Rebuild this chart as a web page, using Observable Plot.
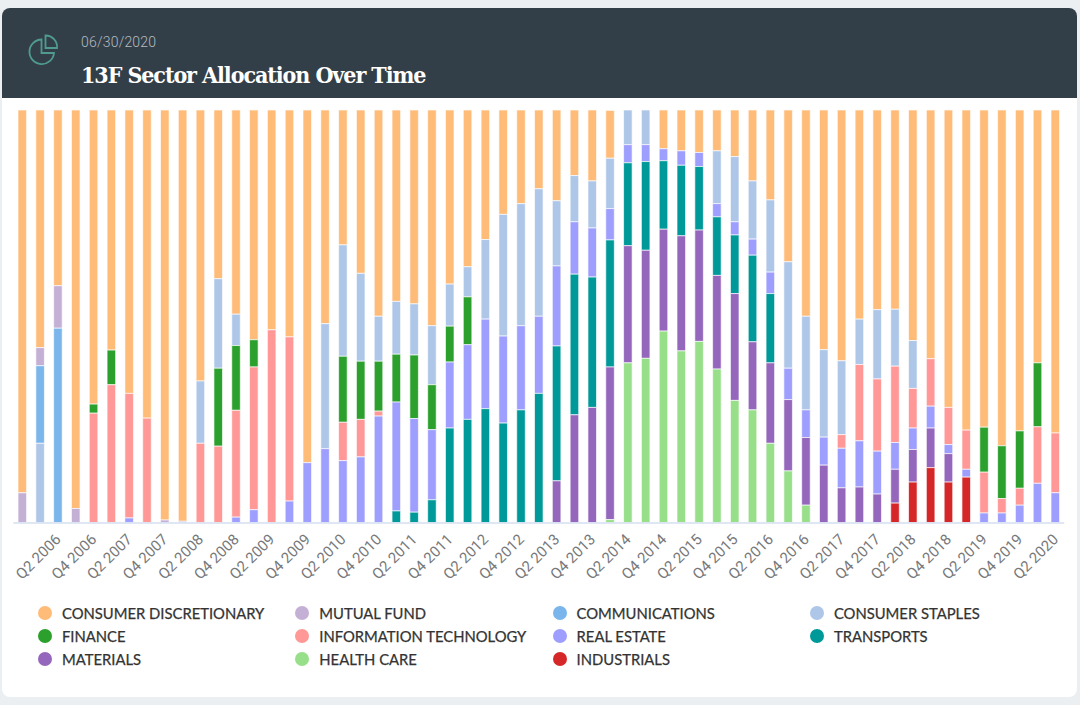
<!DOCTYPE html>
<html><head><meta charset="utf-8">
<script src="https://cdn.jsdelivr.net/npm/d3@7"></script>
<script src="https://cdn.jsdelivr.net/npm/@observablehq/plot@0.6"></script>
<style>
html,body{margin:0;padding:0;background:#ebeff2;width:1080px;height:705px;overflow:hidden}
#card{position:absolute;left:2px;top:8px;width:1075px;height:689px;background:#fff;border-radius:8px;overflow:hidden}
#head{position:absolute;left:0;top:0;width:100%;height:90px;background:#333f48}
#date{position:absolute;left:79px;top:26px;font:300 14px Roboto,sans-serif;color:#b4bcc2;letter-spacing:.2px}
#title{position:absolute;left:79px;top:53px;font:700 23px "DejaVu Serif Condensed","DejaVu Serif",serif;font-stretch:condensed;color:#fff;letter-spacing:-1.07px;white-space:nowrap}
#icon{position:absolute;left:26px;top:26px}
#chart{position:absolute;left:0;top:100px}
#legend{position:absolute;left:0;top:604px;width:1080px}
.it{position:absolute;display:flex;align-items:center;font:400 14.8px Lato,sans-serif;color:#333;-webkit-text-stroke:.25px #333;white-space:nowrap}
.it i{display:block;width:14px;height:14px;border-radius:50%;position:absolute;left:-24px}
</style></head><body>
<div id="card"><div id="head">
<svg id="icon" width="32" height="32" viewBox="0 0 32 32" fill="none" stroke="#4f9c8f" stroke-width="1.8"><path d="M13.5 5.5a12.3 12.3 0 1 0 12.5 13.5H13.5Z"/><path d="M17.5 1.5a11.5 11.5 0 0 1 11.5 12.5H17.5Z"/></svg>
<div id="date">06/30/2020</div><div id="title">13F Sector Allocation Over Time</div></div></div>
<div id="chart"></div><div id="legend"></div>
<script>
const sectors = ["CONSUMER DISCRETIONARY","MUTUAL FUND","COMMUNICATIONS","CONSUMER STAPLES","FINANCE","INFORMATION TECHNOLOGY","REAL ESTATE","TRANSPORTS","MATERIALS","HEALTH CARE","INDUSTRIALS"];
const colors = ["#ffbb78","#c5b0d5","#7ab5eb","#aec7e8","#2ca02c","#ff9896","#9e9eff","#009999","#9467bd","#98df8a","#d62728"];
const quarters = ["Q4 2005","Q1 2006","Q2 2006","Q3 2006","Q4 2006","Q1 2007","Q2 2007","Q3 2007","Q4 2007","Q1 2008","Q2 2008","Q3 2008","Q4 2008","Q1 2009","Q2 2009","Q3 2009","Q4 2009","Q1 2010","Q2 2010","Q3 2010","Q4 2010","Q1 2011","Q2 2011","Q3 2011","Q4 2011","Q1 2012","Q2 2012","Q3 2012","Q4 2012","Q1 2013","Q2 2013","Q3 2013","Q4 2013","Q1 2014","Q2 2014","Q3 2014","Q4 2014","Q1 2015","Q2 2015","Q3 2015","Q4 2015","Q1 2016","Q2 2016","Q3 2016","Q4 2016","Q1 2017","Q2 2017","Q3 2017","Q4 2017","Q1 2018","Q2 2018","Q3 2018","Q4 2018","Q1 2019","Q2 2019","Q3 2019","Q4 2019","Q1 2020","Q2 2020"];
const tickLabels = quarters.filter((q,i)=>i>0 && i%2===0);

const discretionary = [92.8,57.6,42.6,96.6,71.3,58.2,68.7,74.7,99.4,99.7,65.7,40.9,49.5,55.7,53.3,55,85.5,51.8,32.7,39.6,50,46.4,47,52.3,42.2,38,31.4,25.3,22.7,19.1,22,15.9,17.2,11.6,0,0,9.4,9.9,10.3,9.9,11.3,17.2,21.8,36.8,50,58.1,60.8,50.7,48.4,48.3,55.9,60.3,72.1,77.6,76.9,81.4,77.8,61.3,78.3];
const mutualFund   = [7.2,4.4,10.3,3.4,0,0,0,0,0.6,0.3,0,0,0,0,0,0,0,0,0,0,0,0,0,0,0,0,0,0,0,0,0,0,0,0,0,0,0,0,0,0,0,0,0,0,0,0,0,0,0,0,0,0,0,0,0,0,0,0,0];
const communications=[0,18.8,47.1,0,0,0,0,0,0,0,0,0,0,0,0,0,0,0,0,0,0,0,0,0,0,0,0,0,0,0,0,0,0,0,0,0,0,0,0,0,0,0,0,0,0,0,0,0,0,0,0,0,0,0,0,0,0,0,0];
const staples      = [0,19.2,0,0,0,0,0,0,0,0,15.1,21.7,7.6,0,0,0,0,30.3,27,21.3,10.9,12.8,12.4,14.3,10.2,7.3,19.3,29.5,29.6,30.9,15.8,11.2,11.4,12.2,8.4,8.4,0,0,0,12.8,15.8,14.1,17.5,25.8,22.7,21.2,17.9,11,16.8,13.8,11.6,0,0,0,0,0,0,0,0];
const finance      = [0,0,0,0,2.2,8.4,0,0,0,0,0,18.9,15.7,6.6,0,0,0,0,16,14.1,12.1,11.6,15.4,10.9,8.7,11.6,0,0,0,0,0,0,0,0,0,0,0,0,0,0,0,0,0,0,0,0,0,0,0,0,0,0,0,0,10.9,12.8,13.9,15.5,0];
const infoTech     = [0,0,0,0,26.5,33.4,30.2,25.3,0,0,19.2,18.5,25.9,34.6,46.7,39.8,0,0,9.3,9.1,1.2,0,0,0,0,0,0,0,0,0,0,0,0,0,0,0,0,0,0,0,0,0,0,0,0,0,3.3,18.5,17.5,18.5,9.6,11.5,9,9.5,9.9,3.5,4.1,13.7,14.5];
const realEstate   = [0,0,0,0,0,0,1.1,0,0,0,0,0,1.3,3.1,0,5.2,14.5,17.9,15,15.9,25.8,26.4,22.7,17,16,18.1,21.7,21.1,20.4,18.7,19.4,12.7,11.9,7.6,4.4,4.1,2.9,3.5,3.4,3.2,3.2,3.9,5.2,7.6,6.7,6.8,9.6,11.2,10.4,6.5,5.2,5.3,2.2,1.9,2.3,2.3,4.2,9.5,7.2];
const transports   = [0,0,0,0,0,0,0,0,0,0,0,0,0,0,0,0,0,0,0,0,0,2.8,2.5,5.5,22.9,25,27.6,24.1,27.3,31.3,32.7,34.1,31.6,30.8,20.1,21.5,16.6,17.1,15.4,14.2,14.2,21,16.8,0,0,0,0,0,0,0,0,0,0,0,0,0,0,0,0];
const materials    = [0,0,0,0,0,0,0,0,0,0,0,0,0,0,0,0,0,0,0,0,0,0,0,0,0,0,0,0,0,0,10.1,26.1,27.9,37,28.4,26.2,24.7,27.9,27,22.7,25.9,16.5,19.5,17.3,16.4,13.9,8.4,8.6,6.9,8.2,7.9,9.6,6.9,0,0,0,0,0,0];
const healthCare   = [0,0,0,0,0,0,0,0,0,0,0,0,0,0,0,0,0,0,0,0,0,0,0,0,0,0,0,0,0,0,0,0,0,0.7,38.7,39.8,46.4,41.6,43.9,37.2,29.6,27.3,19.2,12.5,4.2,0,0,0,0,0,0,0,0,0,0,0,0,0,0];
const industrials  = [0,0,0,0,0,0,0,0,0,0,0,0,0,0,0,0,0,0,0,0,0,0,0,0,0,0,0,0,0,0,0,0,0,0,0,0,0,0,0,0,0,0,0,0,0,0,0,0,0,4.7,9.8,13.3,9.8,11,0,0,0,0,0];

const series = [discretionary,mutualFund,communications,staples,finance,infoTech,realEstate,transports,materials,healthCare,industrials];
const rows = [];
quarters.forEach((q,i)=>series.forEach((s,j)=>{ if(s[i]>0) rows.push({quarter:q,sector:sectors[j],value:s[i]}); }));
const stackOrder = sectors.slice().reverse();

const plot = Plot.plot({
  width:1080,height:500,marginTop:10,marginBottom:77.5,marginLeft:13.4,marginRight:15.8,
  style:{background:"transparent",overflow:"visible"},
  x:{domain:quarters,paddingInner:.52,paddingOuter:.26,round:false,label:null},
  y:{domain:[0,100],axis:null},
  color:{domain:sectors,range:colors},
  marks:[
    Plot.barY(rows,Plot.stackY({x:"quarter",y:"value",z:"sector",order:stackOrder,fill:"sector",stroke:"#fff",strokeOpacity:.65,strokeWidth:1})),
    Plot.ruleY([0],{stroke:"#d5def0",strokeWidth:1.5}),
    Plot.axisX({ticks:tickLabels,tickSize:0,tickPadding:14,tickRotate:-45,fontSize:15,fill:"#77787a",fontFamily:"Roboto",label:null})
  ]
});
document.getElementById("chart").appendChild(plot);

const legend = document.getElementById("legend");
sectors.forEach((s,i)=>{
  const d=document.createElement("div");d.className="it";
  d.style.left=(62+257.3*(i%4))+"px";d.style.top=(23*Math.floor(i/4))+"px";
  d.innerHTML=`<i style="background:${colors[i]}"></i>${s}`;
  legend.appendChild(d);
});
</script></body></html>
